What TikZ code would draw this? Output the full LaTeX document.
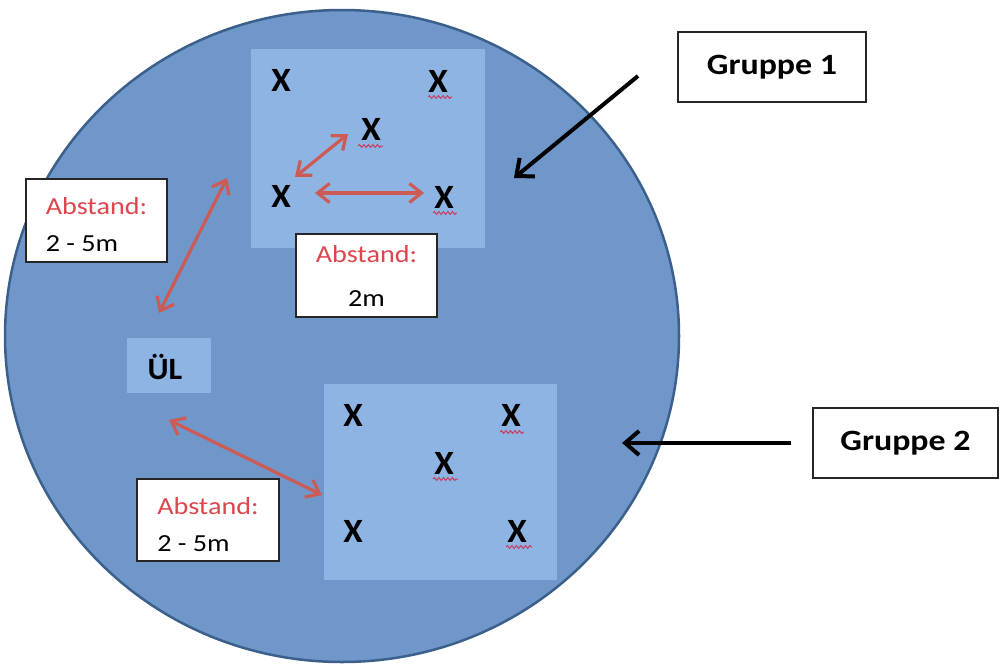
\documentclass[tikz,border=0pt]{standalone}
\usepackage{fontspec}
\setmainfont{Carlito}[FakeStretch=1.15]
\newfontfamily\xfont{Carlito}[FakeStretch=1.04]
\usetikzlibrary{arrows.meta,decorations.pathmorphing}
\definecolor{outerblue}{RGB}{111,151,202}
\definecolor{outerline}{RGB}{60,96,140}
\definecolor{innerblue}{RGB}{141,180,226}
\definecolor{arrred}{RGB}{205,90,85}
\definecolor{txtred}{RGB}{222,70,78}
\definecolor{wavyred}{RGB}{205,60,95}
\begin{document}
\begin{tikzpicture}[x=1pt,y=-1pt,
  area/.style={fill=innerblue, draw=none, inner sep=0pt},
  lbl/.style={draw=black!85, line width=1.8pt, fill=white, inner sep=0pt},
  xmark/.style={font=\xfont\fontsize{34}{34}\selectfont\bfseries, inner sep=0pt, anchor=base},
  grp/.style={lbl, font=\fontsize{29.5}{30}\selectfont\bfseries},
  abbox/.style={lbl, font=\fontsize{24.5}{37}\selectfont},
  redarrow/.style={draw=arrred, line width=3.2pt, {Straight Barb[length=12pt,width=19pt]}-{Straight Barb[length=12pt,width=19pt]}},
  blackarrow/.style={draw=black, line width=4pt, -{Straight Barb[length=14pt,width=24pt]}},
  wavy/.style={draw=wavyred, line width=1pt, decorate, decoration={snake, amplitude=1.4pt, segment length=4.5pt}},
]
\useasboundingbox (0,0) rectangle (1001,664);
\fill[white] (0,0) rectangle (1001,664);
% field
\draw[fill=outerblue, draw=outerline, line width=2.5pt] (342,336) ellipse [x radius=337, y radius=326];
% group areas
\node[area, minimum width=234pt, minimum height=199pt] (g1) at (368,148.5) {};
\node[area, minimum width=233pt, minimum height=196pt] (g2) at (440.5,482) {};
\node[area, minimum width=84pt, minimum height=55pt] (ulbox) at (169,365.5) {};
\node[font=\xfont\fontsize{31}{31}\selectfont\bfseries, inner sep=0pt, anchor=base] (ul) at (165,379) {ÜL};
% group 1 players
\node[xmark] (a1) at (281,91) {X};
\node[xmark] (a2) at (438,92) {X};
\node[xmark] (a3) at (371,140) {X};
\node[xmark] (a4) at (281,207) {X};
\node[xmark] (a5) at (444,208) {X};
% group 2 players
\node[xmark] (b1) at (353,426) {X};
\node[xmark] (b2) at (511,426) {X};
\node[xmark] (b3) at (444,474) {X};
\node[xmark] (b4) at (353,542) {X};
\node[xmark] (b5) at (517,542) {X};
% spell-check squiggles
\draw[wavy] (428,97) -- (452,97);
\draw[wavy] (358,146) -- (383,146);
\draw[wavy] (433,213) -- (457,213);
\draw[wavy] (500,432) -- (524,432);
\draw[wavy] (433,479) -- (458,479);
\draw[wavy] (506,547) -- (532,547);
% labels
\node[grp, minimum width=188pt, minimum height=70pt] (g1lbl) at (772,67) {Gruppe 1};
\node[grp, minimum width=185pt, minimum height=70pt] (g2lbl) at (905.5,443) {Gruppe 2};
\node[abbox, minimum width=141pt, minimum height=83pt, align=left] (ab1) at (96.5,220.5) {\rule{0pt}{26pt}\textcolor{txtred}{Abstand:}\\2 - 5m};
\node[abbox, minimum width=141pt, minimum height=83pt, align=center] (ab2) at (366.5,275.5) {\textcolor{txtred}{Abstand:}\\[7pt]2m};
\node[abbox, minimum width=142pt, minimum height=82pt, align=left] (ab3) at (208,520) {\rule{0pt}{26pt}\textcolor{txtred}{Abstand:}\\2 - 5m};
% red distance arrows
\coordinate (r1a) at (295,177); \coordinate (r1b) at (348,134);
\coordinate (r2a) at (315,193); \coordinate (r2b) at (424,193);
\coordinate (r3a) at (227,178); \coordinate (r3b) at (159,313);
\coordinate (r4a) at (169,420); \coordinate (r4b) at (322,495);
\draw[redarrow] (r1a) -- (r1b);
\draw[redarrow] (r2a) -- (r2b);
\draw[redarrow] (r3a) -- (r3b);
\draw[redarrow] (r4a) -- (r4b);
% black pointer arrows
\coordinate (p1s) at (638,76); \coordinate (p1e) at (514,178);
\coordinate (p2s) at (791,443); \coordinate (p2e) at (622,443);
\draw[blackarrow] (p1s) -- (p1e);
\draw[blackarrow] (p2s) -- (p2e);
\end{tikzpicture}
\end{document}
